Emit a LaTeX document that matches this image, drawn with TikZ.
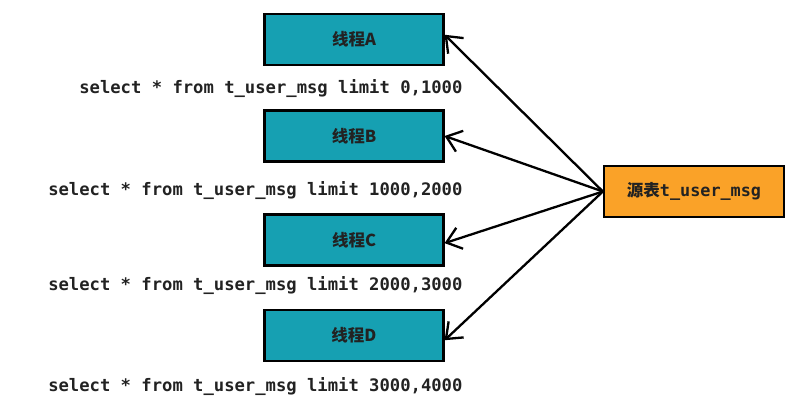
\documentclass[tikz,border=0pt]{standalone}
\usepackage{fontspec}
\usepackage{tikz}
\usetikzlibrary{arrows.meta, positioning}
\setmonofont{DejaVu Sans Mono}
\newfontfamily\cjk{Noto Sans CJK SC}
\definecolor{tTeal}{RGB}{22,160,178}
\definecolor{tOrange}{RGB}{250,162,40}
\definecolor{tInk}{RGB}{34,34,34}

\begin{document}
\begin{tikzpicture}[x=1pt, y=-1pt,
    thread/.style={draw=black, line width=2.2pt, fill=tTeal, minimum width=179pt,
      minimum height=51pt, font=\cjk\bfseries\fontsize{16.5}{18}\selectfont, text=tInk},
    srcbox/.style={draw=black, line width=2.2pt, fill=tOrange, minimum width=180pt,
      minimum height=51pt, text=tInk},
    sql/.style={anchor=east, font=\ttfamily\bfseries\fontsize{17.2}{20}\selectfont, text=tInk},
    fetch/.style={-{Straight Barb[length=14pt,width=22pt,line width=2.3pt]}, line width=2.3pt}]
  \useasboundingbox (0,0) rectangle (806,403);
  \foreach \n/\lbl/\y/\ty/\rng in {a/A/39.5/89/{0,1000}, b/B/136/191/{1000,2000},
                                   c/C/240/286/{2000,3000}, d/D/335.5/387/{3000,4000}} {
    \node[thread] (\n) at (354,\y) {线程\lbl};
    \node[sql] (q\n) at (466,\ty) {select * from t\_user\_msg limit \rng};
  }
  \node[srcbox] (src) at (694,191.5)
    {{\cjk\bfseries\fontsize{16.5}{18}\selectfont 源表}{\ttfamily\bfseries\fontsize{16.8}{18}\selectfont t\_user\_msg}};
  \draw[fetch] (src.west) -- (a.3);
  \draw[fetch] (src.west) -- (b.east);
  \draw[fetch] (src.west) -- (c.-2);
  \draw[fetch] (src.west) -- (d.-3);
\end{tikzpicture}
\end{document}
